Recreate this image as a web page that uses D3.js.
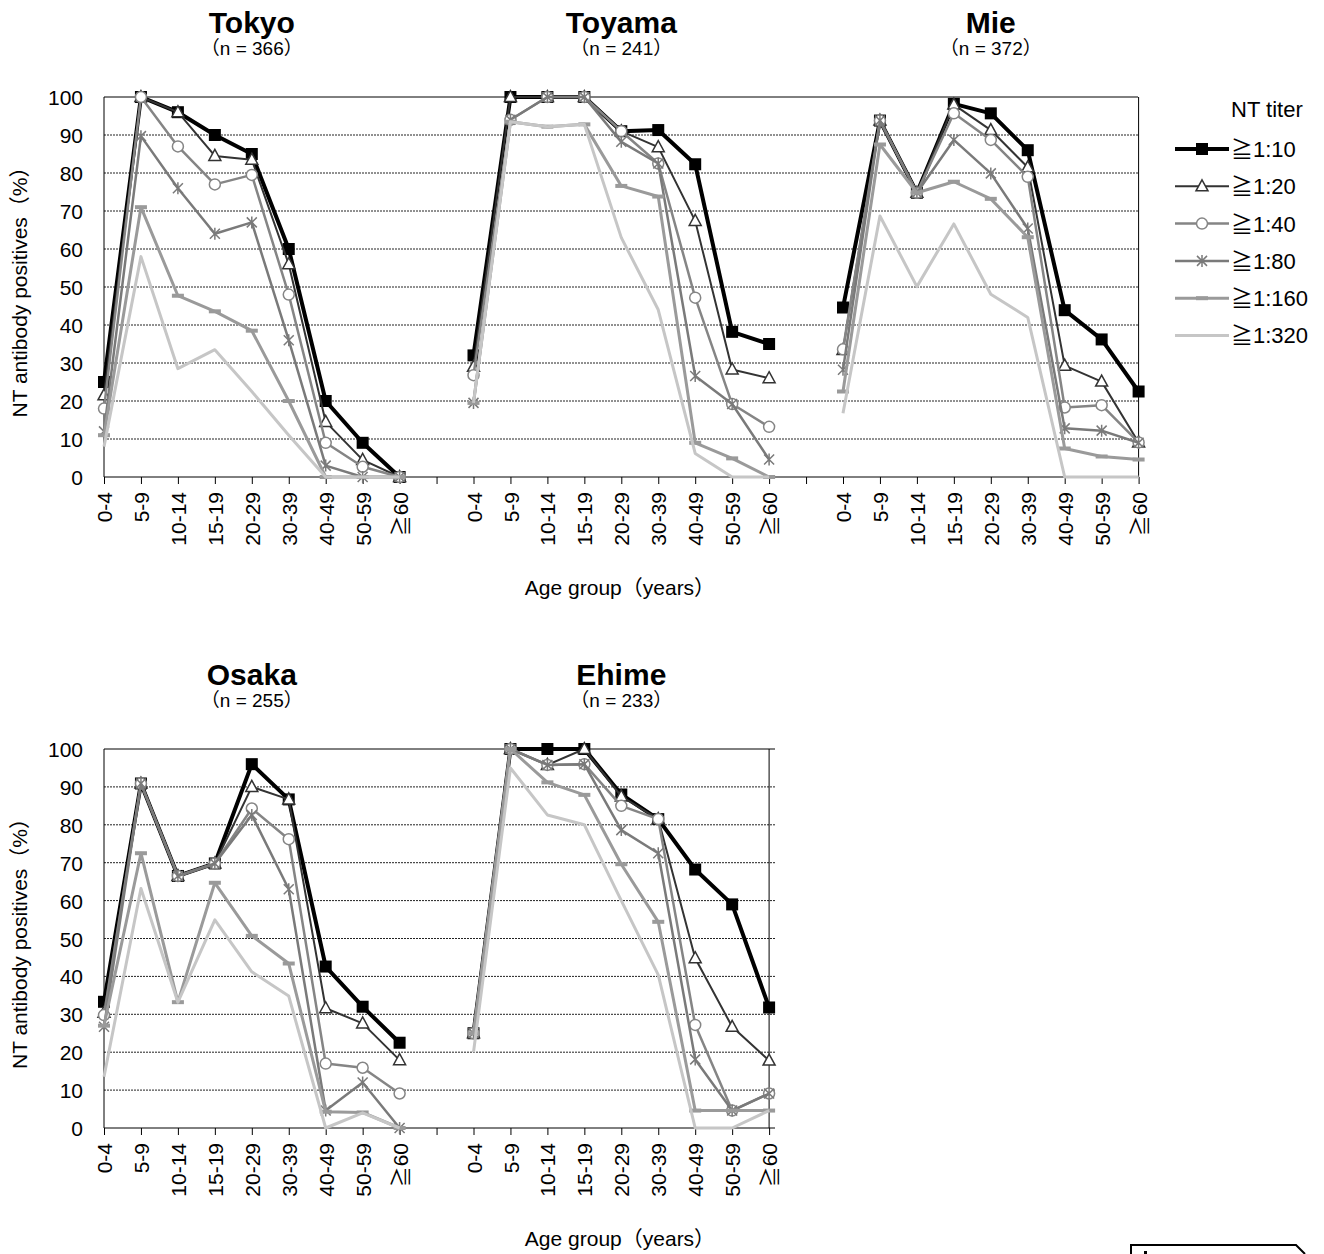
<!DOCTYPE html>
<html>
<head>
<meta charset="utf-8">
<script src="https://cdn.jsdelivr.net/npm/d3@7"></script>
<style>
body { margin: 0; background: #fff; }
text { font-family: "Liberation Sans", Arial, "Noto Sans CJK JP", sans-serif; fill: #000; }
</style>
</head>
<body>
<svg id="chart" width="1324" height="1254"></svg>
<script>
const ages = ["0-4", "5-9", "10-14", "15-19", "20-29", "30-39", "40-49", "50-59", "≧60"];
const titers = ["≧1:10", "≧1:20", "≧1:40", "≧1:80", "≧1:160", "≧1:320"];
const yTicks = [0, 10, 20, 30, 40, 50, 60, 70, 80, 90, 100];

// % positive per titer (rows) and age group (columns)
const tokyo = [
  [25, 100, 96, 90, 85, 60, 20, 9, 0],
  [21.5, 100, 96, 84.5, 83.5, 56, 14.5, 4.5, 0],
  [18, 100, 87, 77, 79.5, 48, 9, 2.7, 0],
  [12, 89.7, 76, 64, 67, 36, 3, 0, 0],
  [11, 71, 47.7, 43.6, 38.5, 20, 0, 0, 0],
  [8, 58, 28.5, 33.5, 22.5, 11, 0, 0, 0]
];
const toyama = [
  [32, 100, 100, 100, 91, 91.3, 82.3, 38.2, 35],
  [29, 100, 100, 100, 91, 86.8, 67.4, 28.3, 26],
  [26.8, 94, 100, 100, 91, 82.5, 47.2, 19.2, 13.2],
  [19.5, 94, 100, 100, 88.2, 82.5, 26.6, 19.2, 4.6],
  [19.5, 93.5, 92.2, 92.8, 76.6, 73.8, 9, 4.9, 0],
  [19.5, 93.5, 92.2, 92.8, 63, 44, 6.2, 0, 0]
];
const mie = [
  [44.6, 93.8, 74.8, 98.2, 95.7, 86, 43.9, 36.2, 22.5],
  [33.4, 93.8, 74.8, 98, 91.3, 81.5, 29.3, 25.1, 9.1],
  [33.6, 93.8, 74.8, 95.7, 88.7, 79, 18.3, 18.9, 9.1],
  [28.2, 93.8, 74.8, 88.7, 79.9, 65.4, 12.8, 12.2, 9],
  [22.5, 87.5, 74.8, 77.7, 73.2, 63.1, 7.5, 5.4, 4.6],
  [16.8, 68.7, 50.1, 66.6, 48.1, 42, 0, 0, 0]
];
const osaka = [
  [33.3, 90.9, 66.5, 69.8, 96, 86.7, 42.6, 32, 22.5],
  [30.4, 90.9, 66.5, 69.8, 90, 86.7, 31.6, 27.6, 17.9],
  [29.8, 90.9, 66.5, 69.8, 84.3, 76.2, 17, 15.9, 9.1],
  [26.7, 90.9, 66.5, 69.8, 82.6, 63, 4.6, 12, 0],
  [27, 72.5, 33.2, 64.7, 50.7, 43.4, 4.3, 4.1, 0],
  [13.5, 63.2, 33.2, 54.9, 41.2, 34.8, 0, 4, 0]
];
const ehime = [
  [25, 100, 100, 100, 88, 81.5, 68.2, 59, 31.8],
  [25, 100, 95.8, 100, 87.5, 81.5, 44.8, 26.7, 17.8],
  [25, 100, 95.8, 96, 85, 81.5, 27.2, 4.6, 9.1],
  [25, 100, 95.8, 96, 78.6, 72.5, 18.1, 4.6, 9.1],
  [25, 100, 91.2, 87.9, 69.6, 54.4, 4.6, 4.6, 4.6],
  [20, 95, 82.6, 80, 60, 40.4, 0, 0, 4.6]
];

const topRegions = [["Tokyo", 366, tokyo], ["Toyama", 241, toyama], ["Mie", 372, mie]];
const bottomRegions = [["Osaka", 255, osaka], ["Ehime", 233, ehime]];

const styles = [
  {stroke: "#000", width: 4, marker: "square"},
  {stroke: "#333", width: 2, marker: "triangle"},
  {stroke: "#858585", width: 2.5, marker: "circle"},
  {stroke: "#7a7a7a", width: 2.5, marker: "star"},
  {stroke: "#9a9a9a", width: 3, marker: "dash"},
  {stroke: "#c6c6c6", width: 3, marker: "none"}
];

const svg = d3.select("#chart");

function drawMarker(g, type, cx, cy, st) {
  if (type == "square") {
    g.append("rect").attr("x", cx - 6).attr("y", cy - 6).attr("width", 12).attr("height", 12).attr("fill", "#000");
  } else if (type == "triangle") {
    g.append("path").attr("d", `M${cx},${cy - 6.5}L${cx + 6},${cy + 4.5}L${cx - 6},${cy + 4.5}Z`)
      .attr("fill", "#fff").attr("stroke", st.stroke).attr("stroke-width", 1.5);
  } else if (type == "circle") {
    g.append("circle").attr("cx", cx).attr("cy", cy).attr("r", 5.5)
      .attr("fill", "#fff").attr("stroke", st.stroke).attr("stroke-width", 1.5);
  } else if (type == "star") {
    g.append("path").attr("d", `M${cx - 5},${cy - 5}L${cx + 5},${cy + 5}M${cx - 5},${cy + 5}L${cx + 5},${cy - 5}M${cx},${cy - 6}L${cx},${cy + 6}`)
      .attr("fill", "none").attr("stroke", st.stroke).attr("stroke-width", 1.5);
  } else if (type == "dash") {
    g.append("rect").attr("x", cx - 6).attr("y", cy - 2).attr("width", 12).attr("height", 4).attr("fill", st.stroke);
  }
}

function drawPanel(regions, yTop, yBottom, xLeft, xRight) {
  let keys = [];
  regions.forEach((r, i) => {
    if (i > 0) keys.push("gap" + i);
    ages.forEach(a => keys.push(r[0] + "|" + a));
  });
  let xLast = xLeft + (keys.length - 1) * 36.95;
  let x = d3.scalePoint().domain(keys).range([xLeft, xLast]).padding(0);
  let y = d3.scaleLinear().domain([0, 100]).range([yBottom, yTop]);
  let g = svg.append("g");

  // gridlines
  g.selectAll(".grid").data(yTicks.filter(t => t > 0 && t < 100)).enter().append("line")
    .attr("x1", xLeft).attr("x2", xRight).attr("y1", d => y(d)).attr("y2", d => y(d))
    .attr("stroke", "#222").attr("stroke-width", 1).attr("stroke-dasharray", "2,1");

  // frame
  g.append("line").attr("x1", xLeft).attr("x2", xRight).attr("y1", yTop).attr("y2", yTop).attr("stroke", "#000");
  g.append("line").attr("x1", xLast).attr("x2", xLast).attr("y1", yTop).attr("y2", yBottom).attr("stroke", "#000");

  // y axis
  let yAxis = d3.axisLeft(y).tickValues(yTicks).tickSize(0).tickPadding(21);
  let gY = g.append("g").attr("transform", `translate(${xLeft},0)`).call(yAxis);
  gY.select(".domain").remove();
  gY.selectAll("text").style("font-size", "21px").attr("dy", "0.36em");
  g.append("line").attr("x1", xLeft).attr("x2", xLeft).attr("y1", yTop).attr("y2", yBottom).attr("stroke", "#000");

  // x axis
  let xAxis = d3.axisBottom(x).tickSize(7).tickSizeOuter(0)
    .tickFormat(k => k.startsWith("gap") ? "" : k.split("|")[1]);
  let gX = g.append("g").attr("transform", `translate(0,${yBottom})`).call(xAxis);
  gX.select(".domain").remove();
  gX.selectAll("text").style("font-size", "21px")
    .attr("transform", "rotate(-90)").attr("x", -15).attr("y", 0).attr("dy", "0.36em")
    .attr("text-anchor", "end");
  g.append("line").attr("x1", xLeft).attr("x2", xRight).attr("y1", yBottom).attr("y2", yBottom).attr("stroke", "#000");

  // series
  regions.forEach(r => {
    let name = r[0], data = r[2];
    let cx = (x(name + "|" + ages[0]) + x(name + "|" + ages[8])) / 2;
    g.append("text").attr("x", cx).attr("y", yTop - 64).attr("text-anchor", "middle")
      .style("font-size", "30px").style("font-weight", "bold").text(name);
    g.append("text").attr("x", cx).attr("y", yTop - 42).attr("text-anchor", "middle")
      .style("font-size", "19px").text("（n = " + r[1] + "）");

    data.forEach((vals, si) => {
      let st = styles[si];
      let line = d3.line().x((v, i) => x(name + "|" + ages[i])).y(v => y(v));
      g.append("path").datum(vals).attr("d", line).attr("fill", "none")
        .attr("stroke", st.stroke).attr("stroke-width", st.width).attr("stroke-linejoin", "round");
      vals.forEach((v, i) => drawMarker(g, st.marker, x(name + "|" + ages[i]), y(v), st));
    });
  });

  // axis titles
  g.append("text").attr("x", 620).attr("y", yBottom + 118).attr("text-anchor", "middle")
    .style("font-size", "21px").text("Age group（years）");
  g.append("text").attr("transform", `translate(20,${(yTop + yBottom) / 2}) rotate(-90)`)
    .attr("text-anchor", "middle").attr("dy", "0.35em")
    .style("font-size", "21px").text("NT antibody positives（%）");
}

drawPanel(topRegions, 97, 477, 104, 1138);
drawPanel(bottomRegions, 749, 1128, 104, 775);

// legend
let lg = svg.append("g");
lg.append("text").attr("x", 1231).attr("y", 117).style("font-size", "22px").text("NT titer");
titers.forEach((t, i) => {
  let ly = 149 + i * 37.3;
  let st = styles[i];
  lg.append("line").attr("x1", 1175).attr("x2", 1229).attr("y1", ly).attr("y2", ly)
    .attr("stroke", st.stroke).attr("stroke-width", st.width);
  drawMarker(lg, st.marker, 1202, ly, st);
  lg.append("text").attr("x", 1231).attr("y", ly).attr("dy", "0.36em").style("font-size", "22px").text(t);
});

// cut-off box at the bottom edge
svg.append("path").attr("d", "M1131,1254L1131,1245L1296,1245L1305,1254")
  .attr("fill", "none").attr("stroke", "#000").attr("stroke-width", 2);
svg.append("rect").attr("x", 1144).attr("y", 1251).attr("width", 3).attr("height", 3).attr("fill", "#000");
</script>
</body>
</html>
